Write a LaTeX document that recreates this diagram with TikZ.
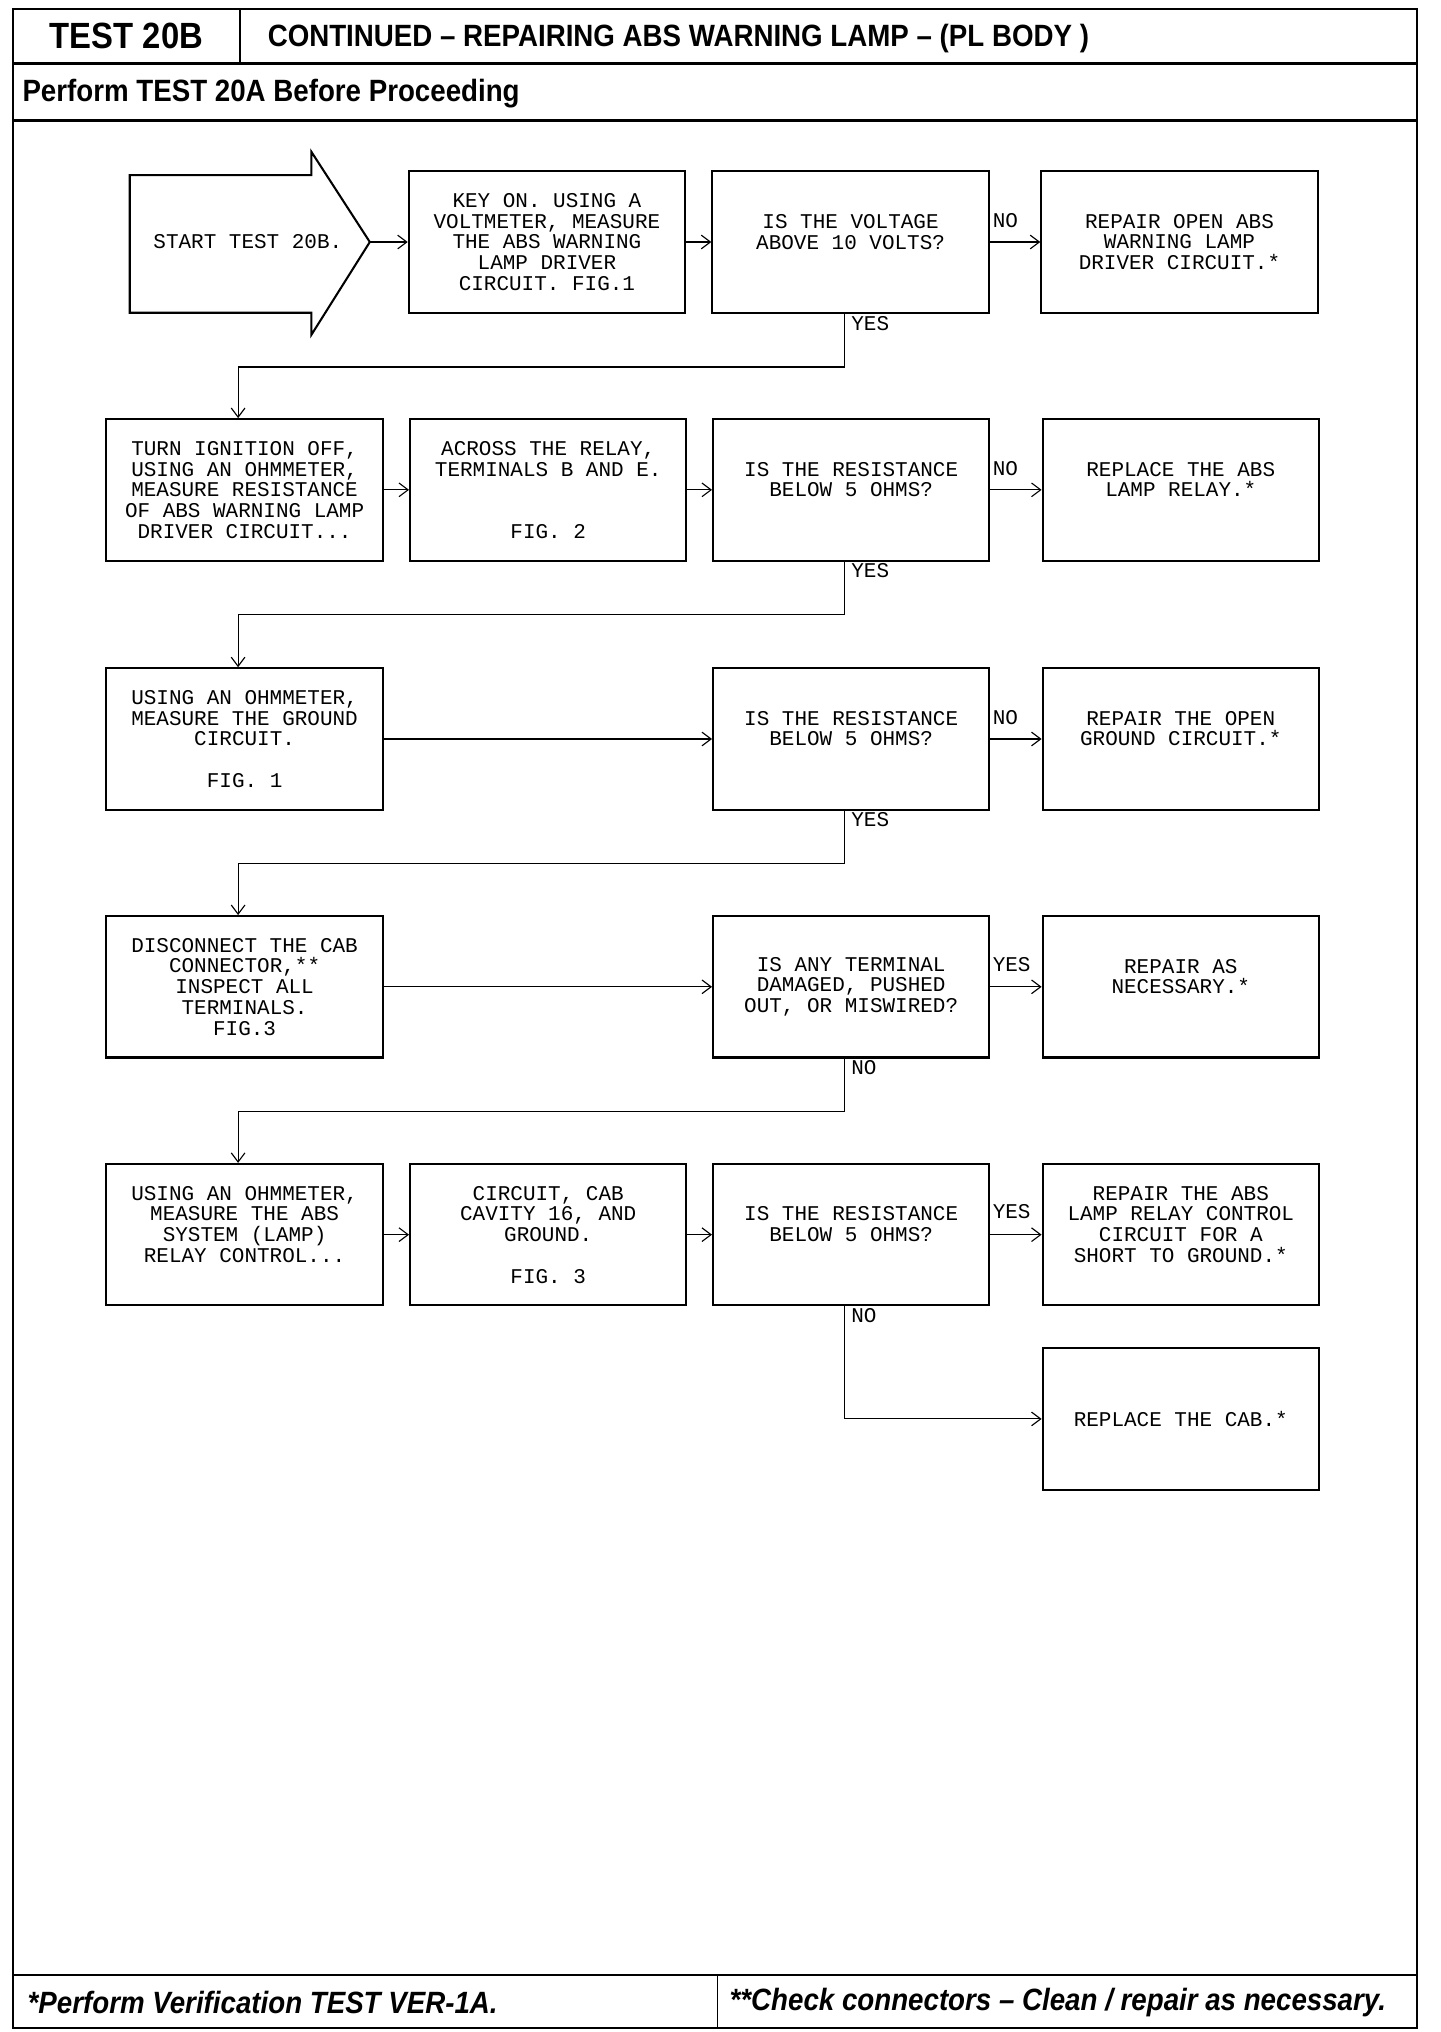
\documentclass[tikz,border=0pt]{standalone}
\usepackage{fontspec}
\setmainfont{Liberation Sans}
\newfontfamily\boxfont{Liberation Mono}
\newfontfamily\hdrfont[FakeStretch=0.9]{Liberation Sans}
\usetikzlibrary{positioning}
\usetikzlibrary{arrows.meta}

\tikzset{
 stepbox/.style={draw,line width=0.9pt,minimum width=4.26cm,minimum height=2.18cm,
   inner sep=1pt,align=center,font=\boxfont\fontsize{9.2}{9.1}\selectfont},
 flow/.style={line width=0.5pt,-{Straight Barb[length=4pt,width=6pt]}},
 lbl/.style={font=\boxfont\fontsize{9.2}{9.1}\selectfont,inner sep=1pt},
 hdr/.style={font=\hdrfont\bfseries\fontsize{13.5}{13.5}\selectfont,inner sep=0pt},
 foot/.style={font=\hdrfont\bfseries\itshape\fontsize{13.5}{13.5}\selectfont,inner sep=0pt},
}

\begin{document}
\begin{tikzpicture}[x=0.02cm,y=-0.02cm]
 \useasboundingbox (0,0) rectangle (1110,1566);
 % frame
 \draw[line width=1.1pt] (10,7) rectangle (1092,1563);
 \draw[line width=1pt] (10,49) -- (1092,49);
 \draw[line width=1pt] (185,7) -- (185,49);
 \draw[line width=1.1pt] (10,93) -- (1092,93);
 \draw[line width=1.1pt] (10,1522) -- (1092,1522);
 \draw[line width=0.8pt] (553,1522) -- (553,1563);
 \node[hdr,font=\hdrfont\bfseries\fontsize{16}{16}\selectfont] (testno) at (97.5,28) {TEST 20B};
 \node[hdr,anchor=west] (title) at (206,30) {CONTINUED – REPAIRING ABS WARNING LAMP – (PL BODY )};
 \node[hdr,anchor=west] (pretest) at (17,72) {Perform TEST 20A Before Proceeding};
 \node[foot,anchor=west] (verify) at (21,1543) {*Perform Verification TEST VER-1A.};
 \node[foot,anchor=west] (connnote) at (562,1543) {**Check connectors – Clean / repair as necessary.};

 % row 1
 \draw[line width=0.9pt] (100,135) -- (240,135) -- (240,117) -- (285,186.5)
   -- (240,258) -- (240,241) -- (100,241) -- cycle;
 \node[lbl] (start) at (191,186.5) {START TEST 20B.};
 \coordinate (starttip) at (285,186.5);
 \node[stepbox] (keyon) at (421.5,186.5) {KEY ON. USING A\\VOLTMETER, MEASURE\\THE ABS WARNING\\LAMP DRIVER\\CIRCUIT. FIG.1};
 \node[stepbox] (voltchk) at (655.5,186.5) {IS THE VOLTAGE\\ABOVE 10 VOLTS?\\\mbox{}};
 \node[stepbox] (opendrv) at (909,186.5) {REPAIR OPEN ABS\\WARNING LAMP\\DRIVER CIRCUIT.*};
 \draw[flow] (starttip) -- (keyon);
 \draw[flow] (keyon) -- (voltchk);
 \draw[flow] (voltchk) -- (opendrv);
 \node[lbl,anchor=west] (no1) at (763,170) {NO};
 \node[lbl,anchor=west] (yes1) at (654,249) {YES};

 % row 2
 \node[stepbox] (ignoff) at (188.5,377.5) {TURN IGNITION OFF,\\USING AN OHMMETER,\\MEASURE RESISTANCE\\OF ABS WARNING LAMP\\DRIVER CIRCUIT...};
 \node[stepbox] (acrossrly) at (422.5,377.5) {ACROSS THE RELAY,\\TERMINALS B AND E.\\\mbox{}\\\mbox{}\\FIG. 2};
 \node[stepbox] (reschka) at (656,377.5) {IS THE RESISTANCE\\BELOW 5 OHMS?\\\mbox{}};
 \node[stepbox] (replrly) at (910,377.5) {REPLACE THE ABS\\LAMP RELAY.*\\\mbox{}};
 \draw[flow] ([xshift=-0.1cm]voltchk.south) -- ++(0,41) -| ([xshift=-0.1cm]ignoff.north);
 \draw[flow] (ignoff) -- (acrossrly);
 \draw[flow] (acrossrly) -- (reschka);
 \draw[flow] (reschka) -- (replrly);
 \node[lbl,anchor=west] (no2) at (763,361) {NO};
 \node[lbl,anchor=west] (yes2) at (654,440) {YES};

 % row 3
 \node[stepbox] (gndmeas) at (188.5,569.5) {USING AN OHMMETER,\\MEASURE THE GROUND\\CIRCUIT.\\\mbox{}\\FIG. 1};
 \node[stepbox] (reschkb) at (656,569.5) {IS THE RESISTANCE\\BELOW 5 OHMS?\\\mbox{}};
 \node[stepbox] (opengnd) at (910,569.5) {REPAIR THE OPEN\\GROUND CIRCUIT.*\\\mbox{}};
 \draw[flow] ([xshift=-0.1cm]reschka.south) -- ++(0,41) -| ([xshift=-0.1cm]gndmeas.north);
 \draw[flow] (gndmeas) -- (reschkb);
 \draw[flow] (reschkb) -- (opengnd);
 \node[lbl,anchor=west] (no3) at (763,553) {NO};
 \node[lbl,anchor=west] (yes3) at (654,632) {YES};

 % row 4
 \node[stepbox] (cabconn) at (188.5,760.5) {DISCONNECT THE CAB\\CONNECTOR,**\\INSPECT ALL\\TERMINALS.\\FIG.3};
 \node[stepbox] (termchk) at (656,760.5) {IS ANY TERMINAL\\DAMAGED, PUSHED\\OUT, OR MISWIRED?};
 \node[stepbox] (repair) at (910,760.5) {REPAIR AS\\NECESSARY.*\\\mbox{}};
 \draw[flow] ([xshift=-0.1cm]reschkb.south) -- ++(0,41) -| ([xshift=-0.1cm]cabconn.north);
 \draw[flow] (cabconn) -- (termchk);
 \draw[flow] (termchk) -- (repair);
 \node[lbl,anchor=west] (yes4) at (763,743) {YES};
 \node[lbl,anchor=west] (no4) at (654,823) {NO};

 % row 5
 \node[stepbox] (rlyctl) at (188.5,951.5) {USING AN OHMMETER,\\MEASURE THE ABS\\SYSTEM (LAMP)\\RELAY CONTROL...\\\mbox{}};
 \node[stepbox] (cavity) at (422.5,951.5) {CIRCUIT, CAB\\CAVITY 16, AND\\GROUND.\\\mbox{}\\FIG. 3};
 \node[stepbox] (reschkc) at (656,951.5) {IS THE RESISTANCE\\BELOW 5 OHMS?\\\mbox{}};
 \node[stepbox] (shortgnd) at (910,951.5) {REPAIR THE ABS\\LAMP RELAY CONTROL\\CIRCUIT FOR A\\SHORT TO GROUND.*\\\mbox{}};
 \draw[flow] ([xshift=-0.1cm]termchk.south) -- ++(0,41) -| ([xshift=-0.1cm]rlyctl.north);
 \draw[flow] (rlyctl) -- (cavity);
 \draw[flow] (cavity) -- (reschkc);
 \draw[flow] (reschkc) -- (shortgnd);
 \node[lbl,anchor=west] (yes5) at (763,934) {YES};
 \node[lbl,anchor=west] (no5) at (654,1014) {NO};

 % row 6
 \node[stepbox] (replcab) at (910,1093.5) {REPLACE THE CAB.*};
 \draw[flow] ([xshift=-0.1cm]reschkc.south) |- (replcab);
\end{tikzpicture}
\end{document}
